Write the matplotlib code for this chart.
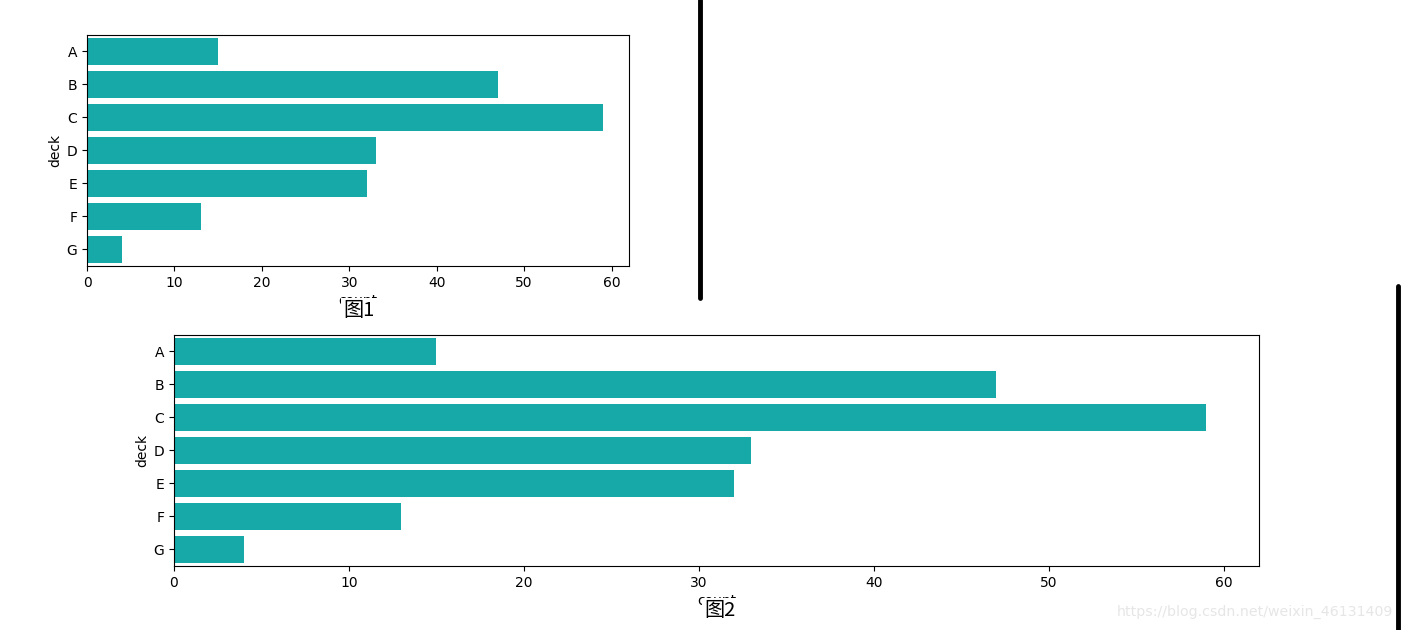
import matplotlib.pyplot as plt
from matplotlib.lines import Line2D

# deck counts (titanic)
decks = ['A', 'B', 'C', 'D', 'E', 'F', 'G']
counts = [15, 47, 59, 33, 32, 13, 4]
bar_color = '#17a8a8'

plt.rcParams['font.family'] = ['Noto Sans CJK SC', 'DejaVu Sans']

fig = plt.figure(figsize=(14.02, 6.30), dpi=100)

def deck_plot(ax):
    ypos = range(len(decks))
    ax.barh(ypos, counts, height=0.8, color=bar_color)
    ax.set_yticks(list(ypos))
    ax.set_yticklabels(decks, family='DejaVu Sans')
    ax.set_ylim(len(decks) - 0.5, -0.5)
    ax.set_xlim(0, 62)
    ax.set_xticks([0, 10, 20, 30, 40, 50, 60])
    for lab in ax.get_xticklabels():
        lab.set_family('DejaVu Sans')
    ax.set_xlabel('count', family='DejaVu Sans', labelpad=3)
    ax.set_ylabel('deck', family='DejaVu Sans', labelpad=3)

# figure 1
ax1 = fig.add_axes([0.0621, 0.5778, 0.3866, 0.3667])
deck_plot(ax1)
# figure 2
ax2 = fig.add_axes([0.1241, 0.1016, 0.7739, 0.3667])
deck_plot(ax2)

# captions, covering most of the xlabel
fig.text(359 / 1402, 1 - 311 / 630, '图1', ha='center', va='center', fontsize=14.5,
         bbox=dict(facecolor='white', edgecolor='none', pad=1.5))
fig.text(720 / 1402, 1 - 611 / 630, '图2', ha='center', va='center', fontsize=14.5,
         bbox=dict(facecolor='white', edgecolor='none', pad=1.5))

# separator lines
fig.add_artist(Line2D([700 / 1402, 700 / 1402], [1, 1 - 298 / 630], color='black', lw=3.5,
                      solid_capstyle='round'))
fig.add_artist(Line2D([1398 / 1402, 1398 / 1402], [1 - 286 / 630, 0], color='black', lw=3.5,
                      solid_capstyle='round'))

# watermark
fig.text(1393 / 1402, 1 - 612 / 630, 'https://blog.csdn.net/weixin_46131409', ha='right',
         va='center', fontsize=10.2, color='#e6e6e6', family='DejaVu Sans')

fig.savefig('out.png', dpi=100)
